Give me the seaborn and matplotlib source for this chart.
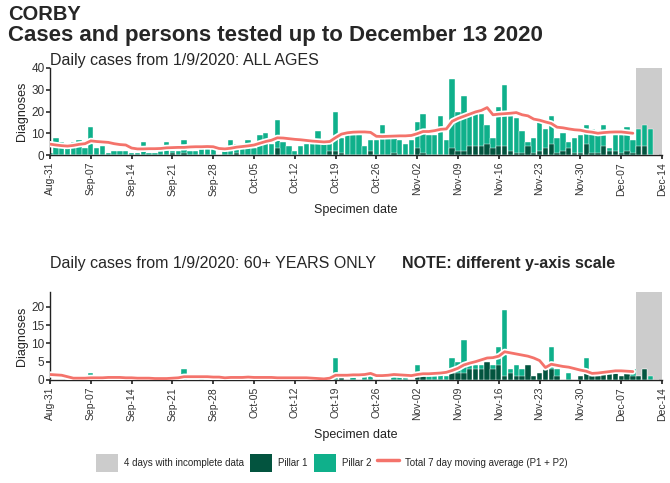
import numpy as np
import pandas as pd
import matplotlib
matplotlib.use("Agg")
import matplotlib.pyplot as plt
import matplotlib.patheffects as pe
from matplotlib.patches import Patch
from matplotlib.lines import Line2D
import seaborn as sns

sns.set_theme(style="ticks")
plt.rcParams['font.family'] = ['Liberation Sans', 'DejaVu Sans']

# ---------------- data ----------------
tick_labels = ["Aug-31", "Sep-07", "Sep-14", "Sep-21", "Sep-28", "Oct-05", "Oct-12",
               "Oct-19", "Oct-26", "Nov-02", "Nov-09", "Nov-16", "Nov-23", "Nov-30",
               "Dec-07", "Dec-14"]

# all ages: total cases per day (P1 + P2), 31 Aug .. 13 Dec 2020
all_total = [1, 8, 6, 3, 6, 7, 3,
             13, 3, 4, 1, 2, 2, 2,
             1, 1, 6, 1, 1, 2, 6,
             2, 2, 7, 2, 2, 3, 3,
             3, 0, 2, 7, 5, 3, 7,
             3, 9, 10, 5, 16, 6, 4,
             2, 4, 5, 5, 11, 5, 7,
             20, 8, 9, 9, 9, 4, 7,
             7, 14, 8, 8, 7, 5, 7,
             15, 19, 9, 9, 18, 7, 35,
             20, 27, 19, 19, 19, 14, 8,
             22, 32, 18, 17, 11, 6, 8,
             15, 12, 18, 8, 10, 6, 8,
             9, 14, 12, 9, 14, 3, 9,
             9, 13, 7, 12, 14, 12, 0]
all_p1 = [0, 0, 0, 0, 0, 0, 0,
          0, 0, 0, 0, 0, 0, 0,
          0, 0, 0, 0, 0, 0, 0,
          1, 0, 1, 0, 0, 0, 0,
          0, 0, 0, 0, 1, 0, 0,
          0, 0, 0, 0, 3, 0, 0,
          0, 0, 0, 0, 0, 0, 2,
          2, 1, 0, 0, 0, 0, 2,
          0, 0, 0, 1, 0, 0, 0,
          3, 1, 0, 0, 0, 0, 3,
          2, 2, 4, 4, 4, 5, 3,
          4, 4, 2, 1, 1, 4, 1,
          2, 3, 5, 1, 2, 3, 1,
          1, 5, 1, 1, 4, 2, 2,
          1, 2, 1, 4, 4, 0, 0]
all_ma = [5.0, 4.6, 4.3, 4.1, 4.4, 4.9, 5.2,
          6.5, 6.2, 6.0, 5.8, 5.2, 4.8, 4.6,
          3.2, 2.8, 2.8, 2.9, 2.9, 3.0, 3.3,
          3.4, 3.5, 3.5, 3.7, 3.8, 3.8, 3.9,
          3.8, 3.0, 2.8, 3.1, 3.6, 3.9, 4.2,
          4.6, 5.4, 6.2, 6.8, 7.9, 7.8, 7.5,
          7.2, 7.0, 6.7, 6.4, 6.2, 6.0, 6.2,
          8.0, 9.6, 10.2, 10.5, 10.6, 10.6, 10.4,
          8.6, 8.5, 8.6, 8.7, 8.8, 8.8, 9.0,
          9.8, 10.8, 10.8, 11.2, 11.8, 12.0, 15.5,
          16.8, 17.8, 18.8, 19.8, 20.5, 21.8, 18.5,
          18.8, 19.0, 19.2, 19.5, 18.5, 18.0, 16.5,
          16.0, 15.2, 14.5, 12.8, 12.5, 12.0, 11.6,
          11.4, 10.8, 10.5, 10.0, 10.3, 10.5, 10.6,
          10.6, 10.3, 10.0]

# 60+ years
old_total = [0, 0, 0, 0, 0, 0, 0,
             2, 0, 0, 0, 0, 0, 0,
             0, 0, 0, 0, 0, 0, 0,
             0, 0, 3, 0, 0, 1, 0,
             0, 0, 0, 1, 0, 1, 0,
             0, 0, 0, 0, 0, 0, 0,
             0, 0, 0, 0, 0, 0, 0,
             6, 1, 0, 1, 0, 1, 2,
             0, 0, 0, 2, 1, 1, 0,
             4, 2, 1, 1, 2, 1, 6,
             5, 11, 4, 4, 4, 5, 4,
             9, 19, 3, 4, 3, 4, 1,
             2, 3, 9, 3, 0, 2, 0,
             1, 6, 2, 1, 2, 2, 2,
             1, 2, 3, 1, 3, 1, 0]
old_p1 = [0, 0, 0, 0, 0, 0, 0,
          0, 0, 0, 0, 0, 0, 0,
          0, 0, 0, 0, 0, 0, 0,
          0, 0, 0, 0, 0, 0, 0,
          0, 0, 0, 0, 0, 0, 0,
          0, 0, 0, 0, 0, 0, 0,
          0, 0, 0, 0, 0, 0, 0,
          0, 1, 0, 0, 0, 0, 0,
          0, 0, 0, 0, 0, 0, 0,
          1, 1, 0, 0, 0, 0, 2,
          2, 2, 3, 3, 3, 5, 3,
          4, 1, 2, 1, 1, 4, 1,
          2, 3, 3, 1, 0, 0, 0,
          1, 2, 1, 1, 2, 2, 2,
          1, 2, 1, 1, 3, 0, 0]
old_ma = [1.5, 1.4, 1.3, 0.9, 0.5, 0.5, 0.5,
          0.6, 0.6, 0.6, 0.7, 0.7, 0.7, 0.6,
          0.6, 0.5, 0.5, 0.5, 0.4, 0.4, 0.4,
          0.5, 0.6, 0.9, 0.9, 0.9, 0.9, 0.9,
          0.8, 0.8, 0.6, 0.7, 0.7, 0.7, 0.8,
          0.7, 0.7, 0.7, 0.7, 0.6, 0.6, 0.6,
          0.6, 0.6, 0.6, 0.5, 0.4, 0.3, 0.5,
          1.3, 1.3, 1.3, 1.4, 1.4, 1.5, 1.8,
          1.2, 1.2, 1.3, 1.5, 1.4, 1.3, 1.2,
          1.5, 1.7, 1.7, 1.8, 1.9, 2.1, 2.6,
          3.2, 4.1, 4.6, 5.0, 5.5, 6.0, 6.1,
          6.5, 7.7, 7.4, 7.1, 6.8, 6.5, 6.0,
          5.3, 3.4, 4.3, 4.0, 3.7, 3.5, 3.1,
          2.7, 2.4, 1.8, 1.9, 2.1, 2.3, 2.5,
          2.5, 2.4, 2.3]

incomplete_days = 4

# ---------------- styling ----------------
C_P1 = "#03543f"
C_P2 = "#0fb08b"
C_MA = "#f4736b"
C_GREY = "#cccccc"

W, H = 670, 483
fig = plt.figure(figsize=(W / 100, H / 100), dpi=100)

def fx(px):
    return px / W

def fy(py):
    return 1 - py / H

LEFT, RIGHT = 50, 662
ax1 = fig.add_axes([fx(LEFT), fy(155), fx(RIGHT) - fx(LEFT), fy(68) - fy(155)])
ax2 = fig.add_axes([fx(LEFT), fy(380), fx(RIGHT) - fx(LEFT), fy(292) - fy(380)])

n = len(all_total)
days = np.arange(n)


def panel(ax, total, p1, ma, ymax, yticks):
    df = pd.DataFrame({"day": days, "total": total, "p1": p1})
    ax.axvspan(n - incomplete_days - 0.5, n, color=C_GREY, lw=0, zorder=0)
    sns.barplot(data=df, x="day", y="total", color=C_P2, saturation=1,
                width=0.92, edgecolor="white", linewidth=0.3, ax=ax, zorder=2)
    sns.barplot(data=df, x="day", y="p1", color=C_P1, saturation=1,
                width=0.92, edgecolor="white", linewidth=0.3, ax=ax, zorder=3)
    dma = pd.DataFrame({"day": np.arange(len(ma)), "ma": ma})
    sns.lineplot(data=dma, x="day", y="ma", color=C_MA, lw=2.0, ax=ax, zorder=4,
                 path_effects=[pe.Stroke(linewidth=4.5, foreground="white"), pe.Normal()])
    ax.set_xlim(0, n)
    ax.set_ylim(0, ymax)
    ax.set_yticks(yticks)
    ax.set_xticks(np.arange(0, n + 1, 7))
    ax.set_xticklabels(tick_labels, rotation=90, fontsize=7.5, color="#333333")
    ax.tick_params(axis="y", labelsize=8.5, colors="#333333", length=3, pad=1)
    ax.tick_params(axis="x", length=3, pad=2)
    ax.set_xlabel("Specimen date", fontsize=9, color="#222222", labelpad=6)
    ax.set_ylabel("Diagnoses", fontsize=9, color="#222222", labelpad=2)
    for s in ["top", "right"]:
        ax.spines[s].set_visible(False)
    for s in ["left", "bottom"]:
        ax.spines[s].set_color("#222222")
        ax.spines[s].set_linewidth(1.0)
    ax.set_facecolor("white")


panel(ax1, all_total, all_p1, all_ma, 40, [0, 10, 20, 30, 40])
panel(ax2, old_total, old_p1, old_ma, 24, [0, 5, 10, 15, 20])

fig.text(fx(8), fy(5), "CORBY", fontsize=14.5, fontweight="bold", va="top", ha="left")
fig.text(fx(8), fy(25), "Cases and persons tested up to December 13 2020",
         fontsize=16, fontweight="bold", va="top", ha="left")
fig.text(fx(50), fy(53), "Daily cases from 1/9/2020: ALL AGES", fontsize=11.5,
         va="top", ha="left")
fig.text(fx(50), fy(256), "Daily cases from 1/9/2020: 60+ YEARS ONLY", fontsize=11.5,
         va="top", ha="left")
fig.text(fx(402), fy(256), "NOTE: different y-axis scale", fontsize=11.5,
         fontweight="bold", va="top", ha="left")

handles = [Patch(facecolor=C_GREY, edgecolor="none"),
           Patch(facecolor=C_P1, edgecolor="none"),
           Patch(facecolor=C_P2, edgecolor="none"),
           Line2D([0], [0], color=C_MA, lw=2.5)]
labels = ["4 days with incomplete data", "Pillar 1", "Pillar 2",
          "Total 7 day moving average (P1 + P2)"]
fig.legend(handles, labels, loc="center", bbox_to_anchor=(fx(332), fy(463)),
           ncol=4, frameon=False, fontsize=7, handlelength=2.3, handleheight=2.6,
           handletextpad=0.6, columnspacing=0.6)

fig.savefig("out.png", dpi=100, facecolor="white")
